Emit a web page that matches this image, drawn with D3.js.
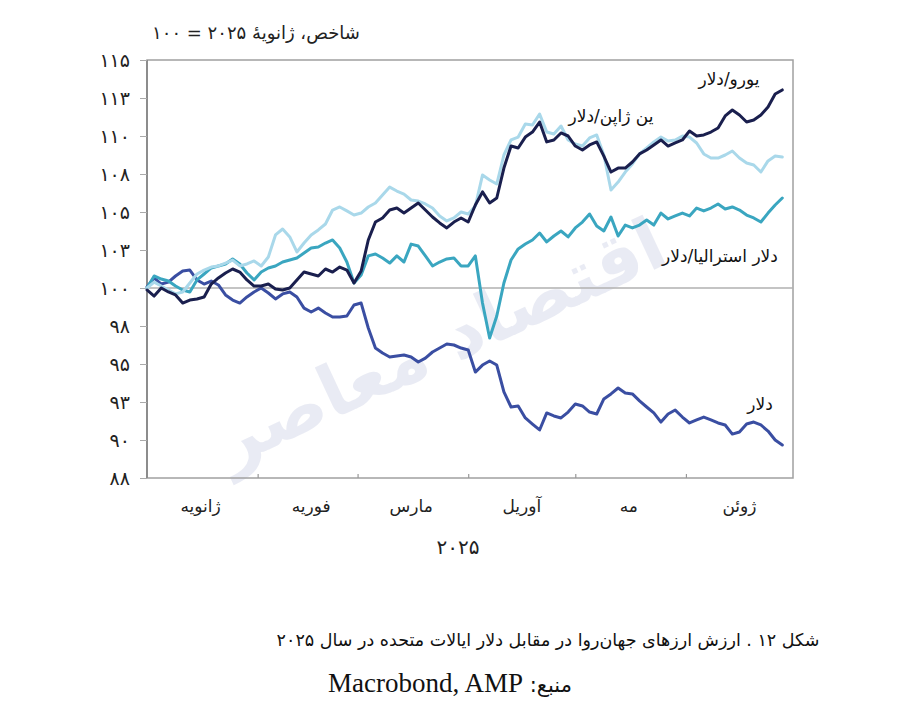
<!DOCTYPE html>
<html><head><meta charset="utf-8">
<script src="https://cdn.jsdelivr.net/npm/d3@7"></script>
<style>
body{margin:0;background:#fff;}
</style></head>
<body><svg id="c" width="899" height="727" font-family="DejaVu Sans, Noto Sans, sans-serif"></svg>
<script>
// ---- data ----
const startDate = new Date(2025,0,1);
const nPoints = 90; // one reading every 2 days from 1 Jan 2025
const euroUsd = [99.87,99.47,100.0,99.74,99.54,99.01,99.21,99.28,99.41,100.26,100.66,100.99,101.25,101.05,100.53,100.13,100.13,100.26,99.93,99.87,100.0,100.53,101.05,100.92,100.79,101.25,101.05,101.38,101.18,100.33,101.12,103.16,104.34,104.61,105.13,105.26,104.93,105.26,105.59,105.13,104.67,104.28,103.95,104.34,104.61,104.34,105.46,106.32,105.59,105.92,107.89,109.34,109.21,109.93,110.26,110.92,109.61,109.74,110.20,110.00,109.34,109.08,109.41,109.61,108.68,107.63,107.89,107.89,108.29,108.82,109.08,109.41,109.74,109.34,109.54,109.74,110.33,110.00,110.07,110.26,110.53,111.32,111.71,111.38,110.92,111.05,111.38,111.91,112.76,113.03];
const yenUsd = [100.0,100.39,100.13,99.87,99.61,99.74,100.33,100.92,101.18,101.38,101.45,101.64,101.84,101.45,101.58,101.78,101.45,102.04,103.49,103.88,103.36,102.37,102.96,103.49,103.82,104.21,105.13,105.33,105.07,104.80,104.93,105.33,105.59,106.12,106.64,106.38,106.18,105.79,105.72,105.53,105.26,104.74,104.41,104.61,105.00,104.87,105.39,107.43,107.11,106.84,108.75,109.74,109.93,110.79,110.72,111.45,110.26,110.13,110.66,109.74,109.47,109.34,109.87,110.07,108.75,106.45,106.97,107.63,108.16,108.82,109.21,109.61,109.93,109.67,109.74,110.00,109.93,109.54,108.82,108.55,108.55,108.75,109.01,108.55,108.22,108.09,107.63,108.36,108.68,108.62];
const audUsd = [100.0,100.79,100.59,100.46,100.13,99.87,99.74,100.53,100.92,101.32,101.45,101.58,101.91,101.58,100.99,100.53,101.05,101.32,101.45,101.71,101.84,101.97,102.30,102.63,102.70,102.96,103.16,102.63,101.71,100.33,100.86,102.11,102.24,101.97,101.64,102.11,101.71,102.89,102.76,102.11,101.45,101.71,101.91,101.97,101.45,101.45,102.11,99.01,96.71,98.16,100.33,101.84,102.57,102.89,103.16,103.62,103.03,103.42,103.75,103.36,103.95,104.34,104.87,104.08,103.75,104.67,103.42,104.14,103.95,104.14,104.47,104.14,104.93,104.54,104.74,104.93,104.74,105.26,105.07,105.26,105.53,105.20,105.33,105.13,104.80,104.61,104.34,104.93,105.46,105.92];
const dollar = [100.07,100.66,100.26,100.39,100.79,101.12,101.18,100.53,100.26,100.46,100.20,99.54,99.21,99.01,99.41,99.74,100.0,99.67,99.28,99.61,99.74,99.41,98.68,98.42,98.68,98.36,98.09,98.09,98.16,98.88,99.01,97.37,96.05,95.72,95.46,95.53,95.59,95.46,95.13,95.39,95.79,96.05,96.32,96.25,96.05,95.92,94.47,94.93,95.20,94.93,93.16,92.17,92.24,91.45,91.05,90.66,91.78,91.58,91.45,91.84,92.37,92.24,91.84,91.71,92.70,93.03,93.42,93.09,93.03,92.57,92.17,91.78,91.18,91.71,91.97,91.51,91.12,91.32,91.51,91.32,91.12,90.99,90.39,90.53,91.05,91.18,90.99,90.59,90.00,89.67];
const yTickValues = [115,112.5,110,107.5,105,102.5,100,97.5,95,92.5,90,87.5];
const yTickLabels = ["۱۱۵","۱۱۳","۱۱۰","۱۰۸","۱۰۵","۱۰۳","۱۰۰","۹۸","۹۵","۹۳","۹۰","۸۸"];
const monthNames = ["ژانویه","فوریه","مارس","آوریل","مه","ژوئن"];
const seriesNames = ["یورو/دلار","ین ژاپن/دلار","دلار استرالیا/دلار","دلار"];
const titleText = "شاخص، ژانویهٔ ۲۰۲۵ = ۱۰۰";
const yearText = "۲۰۲۵";
const captionText = "شکل ۱۲ . ارزش ارزهای جهان‌روا در مقابل دلار ایالات متحده در سال ۲۰۲۵";
const sourceLabel = "منبع:";
const sourceLatin = "Macrobond, AMP";

const dates = d3.range(nPoints).map(i => d3.timeDay.offset(startDate, 2*i));

// ---- chart ----
const svg = d3.select("#c");
const L=147, R=793, T=60, B=478;
const x = d3.scaleTime().domain([new Date(2025,0,1), new Date(2025,6,1)]).range([L,R]);
const y = d3.scaleLinear().domain([87.5,115]).range([B,T]);

// watermark
const wm = svg.append("g").attr("transform","translate(450,365) rotate(-25)").attr("opacity",0.3);
wm.append("text").attr("text-anchor","middle").attr("direction","rtl")
  .attr("font-size",72).attr("fill","#b9bfdc").attr("font-weight","bold").text("اقتصاد معاصر");

// frame
svg.append("rect").attr("x",L).attr("y",T).attr("width",R-L).attr("height",B-T)
  .attr("fill","none").attr("stroke","#a0a0a0").attr("stroke-width",1.5);
svg.append("line").attr("x1",L).attr("x2",L).attr("y1",T).attr("y2",B).attr("stroke","#888").attr("stroke-width",1.8);

// y axis
const ya = svg.append("g").attr("transform",`translate(${L},0)`)
  .call(d3.axisLeft(y).tickValues(yTickValues).tickSize(7).tickPadding(10).tickFormat((d,i)=>yTickLabels[i]));
ya.select(".domain").remove();
ya.selectAll(".tick line").attr("stroke","#aaa").attr("stroke-width",1);
ya.selectAll(".tick text").style("font-size","19px").attr("fill","#222").style("font-family","DejaVu Sans");

// x axis ticks (month boundaries, inward)
const monthStarts = d3.range(1,6).map(m=>new Date(2025,m,1));
const xa = svg.append("g").attr("transform",`translate(0,${B})`)
  .call(d3.axisBottom(x).tickValues(monthStarts).tickSize(-4).tickFormat(""));
xa.select(".domain").remove();
xa.selectAll(".tick line").attr("stroke","#999").attr("stroke-width",1.2);

// month labels mid-month
monthNames.forEach((m,i)=>{
  const mid = new Date(2025,i,16);
  svg.append("text").attr("x",x(mid)).attr("y",512).attr("text-anchor","middle")
    .attr("direction","rtl").attr("font-size",17).attr("fill","#222").text(m);
});
svg.append("text").attr("x",458).attr("y",554).attr("text-anchor","middle")
  .attr("font-size",20).attr("fill","#222").text(yearText);

// 100 baseline
svg.append("line").attr("x1",L).attr("x2",R).attr("y1",y(100)).attr("y2",y(100))
  .attr("stroke","#b0b0b0").attr("stroke-width",1.6);

// lines
const line = d3.line().x((d,i)=>x(dates[i])).y(d=>y(d));
const series = [
  {v:dollar, c:"#3a4ea2"},
  {v:audUsd, c:"#3aa6c0"},
  {v:yenUsd, c:"#a9d8ea"},
  {v:euroUsd, c:"#1a1f4e"}
];
series.forEach(s=>{
  svg.append("path").attr("d",line(s.v)).attr("fill","none").attr("stroke",s.c)
    .attr("stroke-width",3).attr("stroke-linejoin","round").attr("stroke-linecap","round");
});

// series labels
const lab = [[729,85,seriesNames[0]],[611,122,seriesNames[1]],[720,262,seriesNames[2]],[760,410,seriesNames[3]]];
lab.forEach(l=>{
  svg.append("text").attr("x",l[0]).attr("y",l[1]).attr("text-anchor","middle")
    .attr("direction","rtl").attr("font-size",17).attr("fill","#111").text(l[2]);
});

// title
svg.append("text").attr("x",256).attr("y",39).attr("text-anchor","middle").attr("direction","rtl")
  .attr("font-size",18).attr("fill","#222").text(titleText);

// caption
svg.append("text").attr("x",548).attr("y",646).attr("text-anchor","middle").attr("direction","rtl")
  .attr("font-size",17.5).attr("fill","#111").text(captionText);
const src = svg.append("text").attr("x",450).attr("y",692).attr("text-anchor","middle").attr("direction","rtl")
  .attr("font-size",21).attr("fill","#111");
src.append("tspan").text(sourceLabel + " ");
src.append("tspan").attr("font-family","Liberation Serif").attr("font-size",27).text(sourceLatin);
</script></body></html>
